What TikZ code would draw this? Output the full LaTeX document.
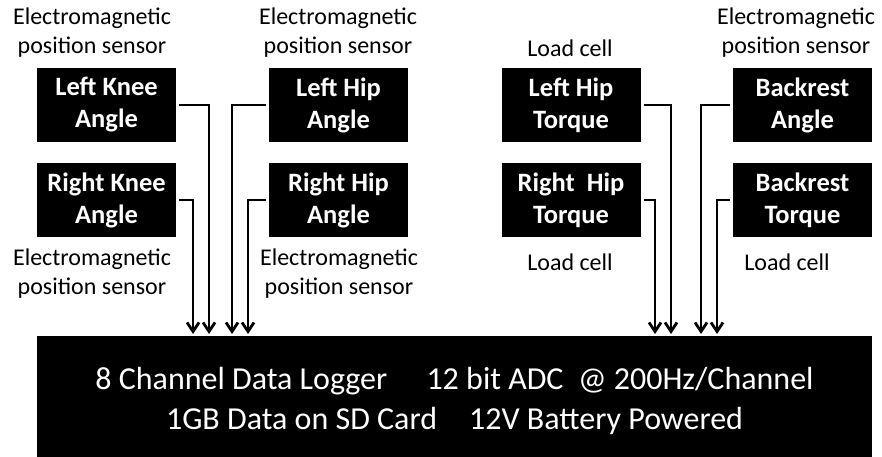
\documentclass[tikz,border=0pt]{standalone}
\usepackage{fontspec}
\setmainfont{Carlito}
\usetikzlibrary{arrows.meta,positioning}

\begin{document}
\begin{tikzpicture}[
    x=1pt, y=-1pt,
    >={Straight Barb[length=9pt,width=12pt]},
    every node/.style={font=\fontsize{24}{29}\selectfont},
    sens/.style={
        fill=black,
        text=white,
        minimum width=139pt,
        minimum height=74pt,
        align=center,
        font=\bfseries\fontsize{26.5}{32}\selectfont
    },
    lbl/.style={align=center, inner sep=0pt},
    wire/.style={->, line width=2.8pt, shorten <=3pt}
]
\useasboundingbox (0,0) rectangle (882,457);

% sensor boxes
\node[sens] (lka) at (106.5,105) {Left Knee\\Angle};
\node[sens] (rka) at (106.5,200) {Right Knee\\Angle};
\node[sens] (lha) at (338.5,105) {Left Hip\\Angle};
\node[sens] (rha) at (338.5,200) {Right Hip\\Angle};
\node[sens] (lht) at (571,105)   {Left Hip\\Torque};
\node[sens] (rht) at (571,200)   {Right\ \ Hip\\Torque};
\node[sens] (ba)  at (802.5,105) {Backrest\\Angle};
\node[sens] (bt)  at (802.5,200) {Backrest\\Torque};

% sensor types
\node[lbl] (lkatype) at (92,33)   {Electromagnetic\\position sensor};
\node[lbl] (rkatype) at (92,274)  {Electromagnetic\\position sensor};
\node[lbl] (lhatype) at (338,33)  {Electromagnetic\\position sensor};
\node[lbl] (rhatype) at (339,274) {Electromagnetic\\position sensor};
\node[lbl] (lhttype) at (570,48)  {Load cell};
\node[lbl] (rhttype) at (570,262) {Load cell};
\node[lbl] (batype)  at (796,33)  {Electromagnetic\\position sensor};
\node[lbl] (bttype)  at (787,262) {Load cell};

% logger (runs off the bottom edge)
\node[fill=black, text=white, minimum width=835pt, minimum height=129pt,
      align=center, font=\fontsize{32}{40}\selectfont] (logger) at (454.5,400.5)
    {8 Channel Data Logger\quad\ 12 bit ADC\ \ @ 200Hz/Channel\\
     1GB Data on SD Card\quad 12V Battery Powered};

\coordinate (in1) at (193,334);
\coordinate (in2) at (209,334);
\coordinate (in3) at (232,334);
\coordinate (in4) at (248,334);
\coordinate (in5) at (655,334);
\coordinate (in6) at (671,334);
\coordinate (in7) at (701,334);
\coordinate (in8) at (717,334);

\draw[wire] (rka.east) -| (in1);
\draw[wire] (lka.east) -| (in2);
\draw[wire] (lha.west) -| (in3);
\draw[wire] (rha.west) -| (in4);
\draw[wire] (rht.east) -| (in5);
\draw[wire] (lht.east) -| (in6);
\draw[wire] (ba.west)  -| (in7);
\draw[wire] (bt.west)  -| (in8);

\end{tikzpicture}
\end{document}
